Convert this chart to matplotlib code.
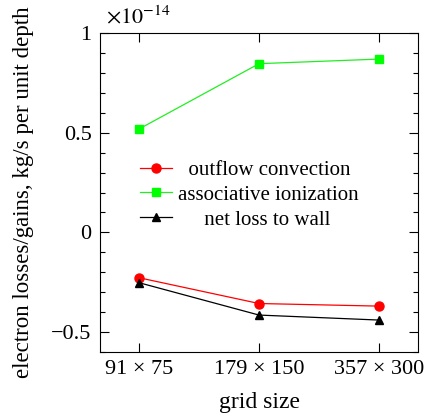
import numpy as np
import matplotlib
matplotlib.use('Agg')
from matplotlib import pyplot as plt
from matplotlib.ticker import MultipleLocator, FuncFormatter

# data (values in units of 1e-14 kg/s per unit depth)
grids = ['91 × 75', '179 × 150', '357 × 300']
outflow = [-0.228, -0.357, -0.370]
assoc = [0.520, 0.847, 0.870]
netloss = [-0.253, -0.415, -0.440]

plt.rcParams['font.family'] = ['Liberation Serif', 'DejaVu Serif']
plt.rcParams['mathtext.fontset'] = 'stix'
plt.rcParams['font.size'] = 16

fig = plt.figure(figsize=(4.25, 4.15), dpi=100)
ax = fig.add_axes([0.235, 0.152, 0.749, 0.768])

x = np.arange(len(grids))
ax.plot(x, outflow, '-o', color='#ff0000', lw=0.9, ms=6.5, label='  outflow convection')
ax.plot(x, assoc, '-s', color='#22ee22', mfc='#00ff00', mec='#00ff00', lw=0.9, ms=6,
        label='associative ionization')
ax.plot(x, netloss, '-^', color='black', lw=0.9, ms=5.5, label='     net loss to wall')

ax.set_xlim(-0.33, 2.33)
ax.set_ylim(-0.6, 1.0)
ax.set_xticks(x)
ax.set_xticklabels(grids)
ax.yaxis.set_major_locator(MultipleLocator(0.5))
ax.yaxis.set_minor_locator(MultipleLocator(0.1))
ax.yaxis.set_major_formatter(FuncFormatter(lambda v, p: ('%g' % v).replace('-', '\u2212')))
ax.tick_params(which='both', direction='in', top=True, right=True, width=0.8)
ax.tick_params(which='major', length=6.5, pad=6)
ax.tick_params(which='minor', length=3.5)
for s in ax.spines.values():
    s.set_linewidth(0.8)

ax.text(0.02, 1.015, r'$\times10^{-14}$', transform=ax.transAxes, ha='left', va='bottom', fontsize=16)

ax.set_xlabel('grid size', fontsize=17, labelpad=9)
ax.set_ylabel('electron losses/gains, kg/s per unit depth', fontsize=16.5)
ax.yaxis.set_label_coords(-0.207, 0.5)

ax.legend(loc='upper left', bbox_to_anchor=(0.10, 0.627), frameon=False, fontsize=15,
          handlelength=1.55, handletextpad=0.25, labelspacing=0.25, borderaxespad=0)

plt.savefig('out.png', dpi=100)
